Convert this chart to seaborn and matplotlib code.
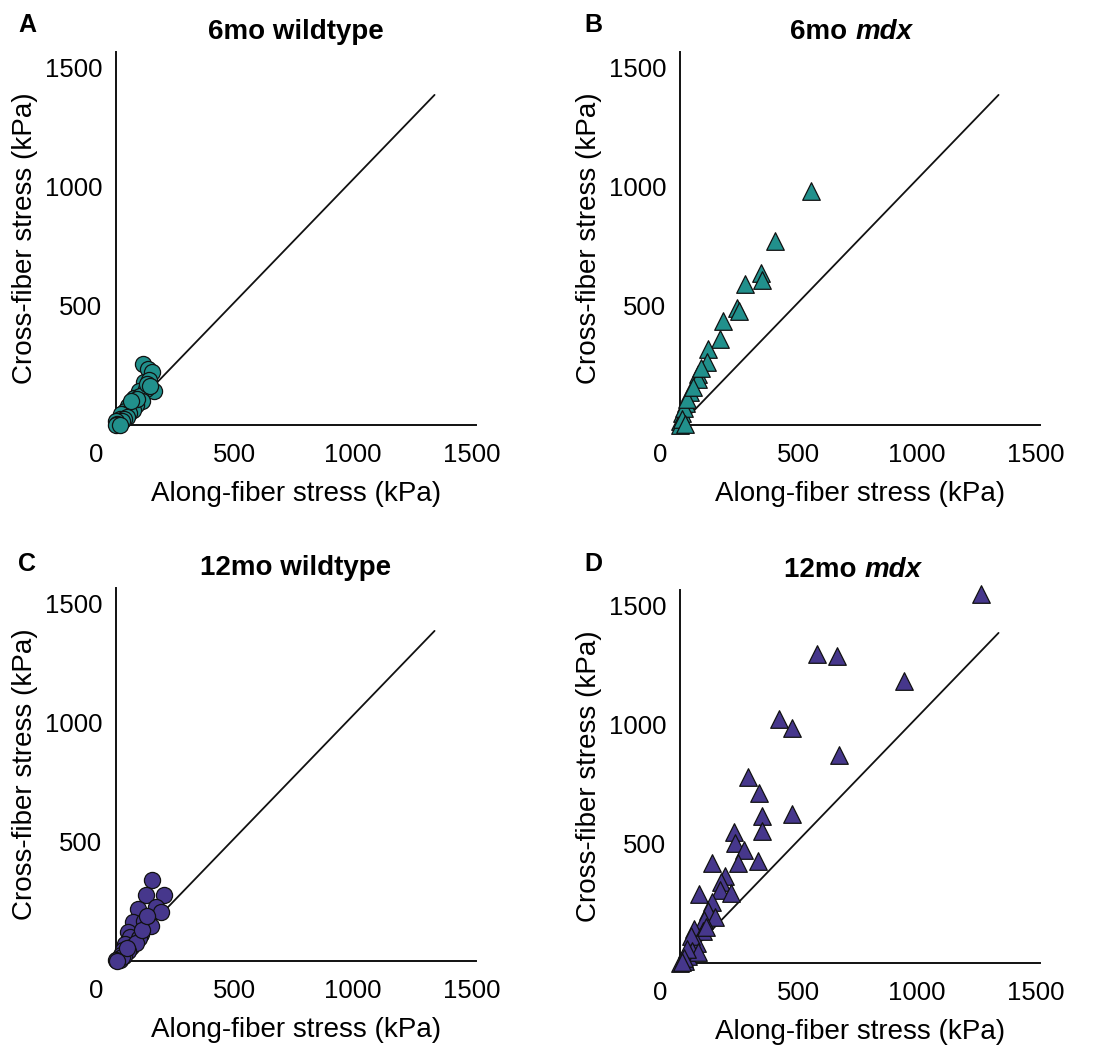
import numpy as np
import pandas as pd
import matplotlib
matplotlib.use("Agg")
import matplotlib.pyplot as plt
import matplotlib.transforms as mtransforms
import seaborn as sns

# ===== DONNÉES =====
wt6_along = [112, 133, 154, 119, 140, 161, 98, 125, 77, 100, 110, 60, 85, 49, 70, 40,
             30, 55, 21, 45, 15, 35, 10, 25, 0, 5, 0, 15, 90, 65, 130, 145]
wt6_cross = [254, 235, 221, 179, 190, 144, 144, 150, 115, 120, 100, 90, 85, 80, 65, 60,
             45, 50, 45, 35, 25, 25, 15, 15, 17, 5, 0, 0, 110, 100, 170, 165]

mdx6_along = [554, 401, 341, 345, 276, 242, 251, 180, 169, 117, 113, 75, 77, 42, 25, 7,
              0, 0, 15, 30, 55, 90, 10, 20]
mdx6_cross = [982, 770, 637, 608, 590, 489, 479, 437, 362, 317, 263, 214, 193, 137, 94, 49,
              17, 0, 70, 110, 160, 240, 25, 5]

wt12_along = [154, 203, 126, 91, 168, 189, 70, 119, 147, 105, 49, 77, 60, 95, 40, 65,
              85, 30, 50, 20, 35, 10, 15, 25, 0, 45, 110, 130, 5]
wt12_cross = [341, 279, 279, 218, 225, 204, 162, 169, 148, 113, 120, 85, 100, 95, 70, 60,
              75, 45, 40, 25, 20, 10, 5, 15, 5, 55, 130, 190, 0]

mdx12_along = [1271, 578, 662, 946, 418, 471, 670, 285, 335, 345, 471, 346, 230, 233,
               270, 244, 328, 135, 191, 175, 168, 216, 80, 135, 119, 149, 102, 60,
               98, 70, 46, 35, 0, 21, 50, 75, 30, 15, 110, 10]
mdx12_cross = [1549, 1296, 1289, 1183, 1025, 986, 873, 782, 715, 617, 627, 552, 549, 504,
               476, 420, 427, 418, 363, 338, 307, 293, 289, 256, 218, 194, 180, 141,
               134, 85, 113, 28, 0, 7, 50, 45, 60, 20, 150, 5]

# droite de référence
ref_x = [0, 1345]
ref_y = [0, 1385]

x_ticks = [0, 500, 1000, 1500]
y_ticks = [500, 1000, 1500]

teal = "#21908C"
purple = "#46378C"

# ===== STYLE =====
sns.set_style("white")
plt.rcParams['font.family'] = ['Liberation Sans', 'DejaVu Sans']
plt.rcParams['text.color'] = 'black'
plt.rcParams['axes.labelcolor'] = 'black'
plt.rcParams['xtick.color'] = 'black'
plt.rcParams['ytick.color'] = 'black'

fig = plt.figure(figsize=(10.94, 10.51), dpi=100)

W = 360 / 1094
H = 373 / 1051
positions = {
    'A': [116 / 1094, 1 - 425 / 1051, W, H],
    'B': [680 / 1094, 1 - 425 / 1051, W, H],
    'C': [116 / 1094, 1 - 961 / 1051, W, H],
    'D': [680 / 1094, 1 - 963 / 1051, W, H],
}

panels = [
    ('A', wt6_along, wt6_cross, 'o', teal, "6mo ", "wildtype"),
    ('B', mdx6_along, mdx6_cross, '^', teal, "6mo ", "mdx"),
    ('C', wt12_along, wt12_cross, 'o', purple, "12mo ", "wildtype"),
    ('D', mdx12_along, mdx12_cross, '^', purple, "12mo ", "mdx"),
]

zero_shift = mtransforms.ScaledTranslation(-0.20, 0, fig.dpi_scale_trans)

for letter, xs, ys, mk, col, age, geno in panels:
    ax = fig.add_axes(positions[letter])
    df = pd.DataFrame({'along': xs, 'cross': ys})

    ax.plot(ref_x, ref_y, color='#111111', lw=1.3, zorder=2)
    sns.scatterplot(data=df, x='along', y='cross', marker=mk,
                    s=135 if mk == 'o' else 160, color=col,
                    edgecolor='#111111', linewidth=0.9, ax=ax,
                    clip_on=False, zorder=3)

    ax.set_xlim(0, 1520)
    ax.set_ylim(0, 1565)
    ax.set_xticks(x_ticks)
    ax.set_yticks(y_ticks)
    ax.tick_params(axis='both', length=0, labelsize=18.5)
    ax.tick_params(axis='x', pad=13)
    ax.tick_params(axis='y', pad=10)
    for lab in ax.get_xticklabels()[:1]:
        lab.set_transform(lab.get_transform() + zero_shift)

    sns.despine(ax=ax)
    for side in ['left', 'bottom']:
        ax.spines[side].set_linewidth(1.4)
        ax.spines[side].set_color('#111111')

    ax.set_xlabel('Along-fiber stress (kPa)', fontsize=20, labelpad=10)
    ax.set_ylabel('Cross-fiber stress (kPa)', fontsize=20, labelpad=5)

    # titre
    if geno == "wildtype":
        ax.text(0.5, 1.035, age + geno, transform=ax.transAxes, ha='center',
                va='baseline', fontsize=20, fontweight='bold')
    else:
        x0 = 0.306 if age == "6mo " else 0.289
        t1 = ax.text(x0, 1.035, age, transform=ax.transAxes, ha='left',
                     va='baseline', fontsize=20, fontweight='bold')
        ax.annotate(geno, xy=(1, 0), xycoords=t1, ha='left', va='bottom',
                    fontsize=20, fontweight='bold', fontstyle='italic')

    # lettre du panneau
    lx = 18 / 1094 if letter in 'AC' else 584 / 1094
    ly = 0.9698 if letter in 'AB' else 0.4565
    fig.text(lx, ly, letter, ha='left', va='baseline', fontsize=18,
             fontweight='bold')

plt.savefig('out.png', dpi=100)
